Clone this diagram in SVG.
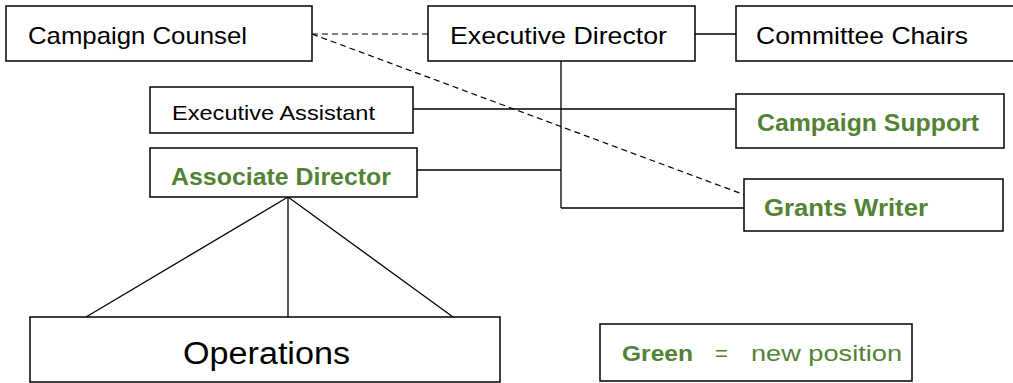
<svg xmlns="http://www.w3.org/2000/svg" width="1013" height="383" viewBox="0 0 1013 383">
<style>
.box{fill:#fff;stroke:#000;stroke-width:1.5}
.t{font-family:"Liberation Sans",Arial,sans-serif;fill:#000}
.g{font-family:"Liberation Sans",Arial,sans-serif;fill:#548235;font-weight:bold}
.ln{stroke:#000;stroke-width:1.3;fill:none}
.dash{stroke:#000;stroke-width:1.2;fill:none;stroke-dasharray:6 4}
</style>
<rect width="1013" height="383" fill="#fff"/>
<g id="connectors">
<line class="dash" x1="312" y1="34" x2="428" y2="34"/>
<line class="dash" x1="312" y1="34" x2="745" y2="195"/>
<line class="ln" x1="695" y1="34" x2="736" y2="34"/>
<line class="ln" x1="561" y1="61" x2="561" y2="208"/>
<line class="ln" x1="413" y1="109" x2="735" y2="109"/>
<line class="ln" x1="417" y1="170" x2="561" y2="170"/>
<line class="ln" x1="561" y1="208" x2="744" y2="208"/>
<line class="ln" x1="288" y1="197" x2="86" y2="317"/>
<line class="ln" x1="288" y1="197" x2="288" y2="317"/>
<line class="ln" x1="288" y1="197" x2="453" y2="317"/>
</g>
<g id="campaign-counsel">
<rect class="box" x="6" y="6" width="306" height="55"/>
<text class="t" x="28" y="44" font-size="24" textLength="219" lengthAdjust="spacingAndGlyphs">Campaign Counsel</text>
</g>
<g id="executive-director">
<rect class="box" x="428" y="6" width="267" height="55"/>
<text class="t" x="450" y="44" font-size="24" textLength="217" lengthAdjust="spacingAndGlyphs">Executive Director</text>
</g>
<g id="committee-chairs">
<rect class="box" x="736" y="6" width="290" height="55"/>
<text class="t" x="756" y="44" font-size="24" textLength="212" lengthAdjust="spacingAndGlyphs">Committee Chairs</text>
</g>
<g id="executive-assistant">
<rect class="box" x="150" y="87" width="263" height="46"/>
<text class="t" x="172" y="120" font-size="21" textLength="203" lengthAdjust="spacingAndGlyphs">Executive Assistant</text>
</g>
<g id="associate-director">
<rect class="box" x="150" y="148" width="267" height="49"/>
<text class="g" x="171" y="185" font-size="23" textLength="220" lengthAdjust="spacingAndGlyphs">Associate Director</text>
</g>
<g id="campaign-support">
<rect class="box" x="736" y="94" width="268" height="54"/>
<text class="g" x="757" y="131" font-size="23" textLength="222" lengthAdjust="spacingAndGlyphs">Campaign Support</text>
</g>
<g id="grants-writer">
<rect class="box" x="744" y="179" width="259" height="52"/>
<text class="g" x="764" y="216" font-size="23" textLength="164" lengthAdjust="spacingAndGlyphs">Grants Writer</text>
</g>
<g id="operations">
<rect class="box" x="30" y="317" width="470" height="65"/>
<text class="t" x="183" y="364" font-size="31" textLength="167" lengthAdjust="spacingAndGlyphs">Operations</text>
</g>
<g id="legend">
<rect class="box" x="600" y="324" width="312" height="57"/>
<text class="g" x="622" y="361" font-size="22" textLength="71" lengthAdjust="spacingAndGlyphs">Green</text>
<text class="t" x="715" y="361" font-size="22" style="fill:#548235">=</text>
<text class="t" x="751" y="361" font-size="22" style="fill:#548235" textLength="151" lengthAdjust="spacingAndGlyphs">new position</text>
</g>
</svg>
